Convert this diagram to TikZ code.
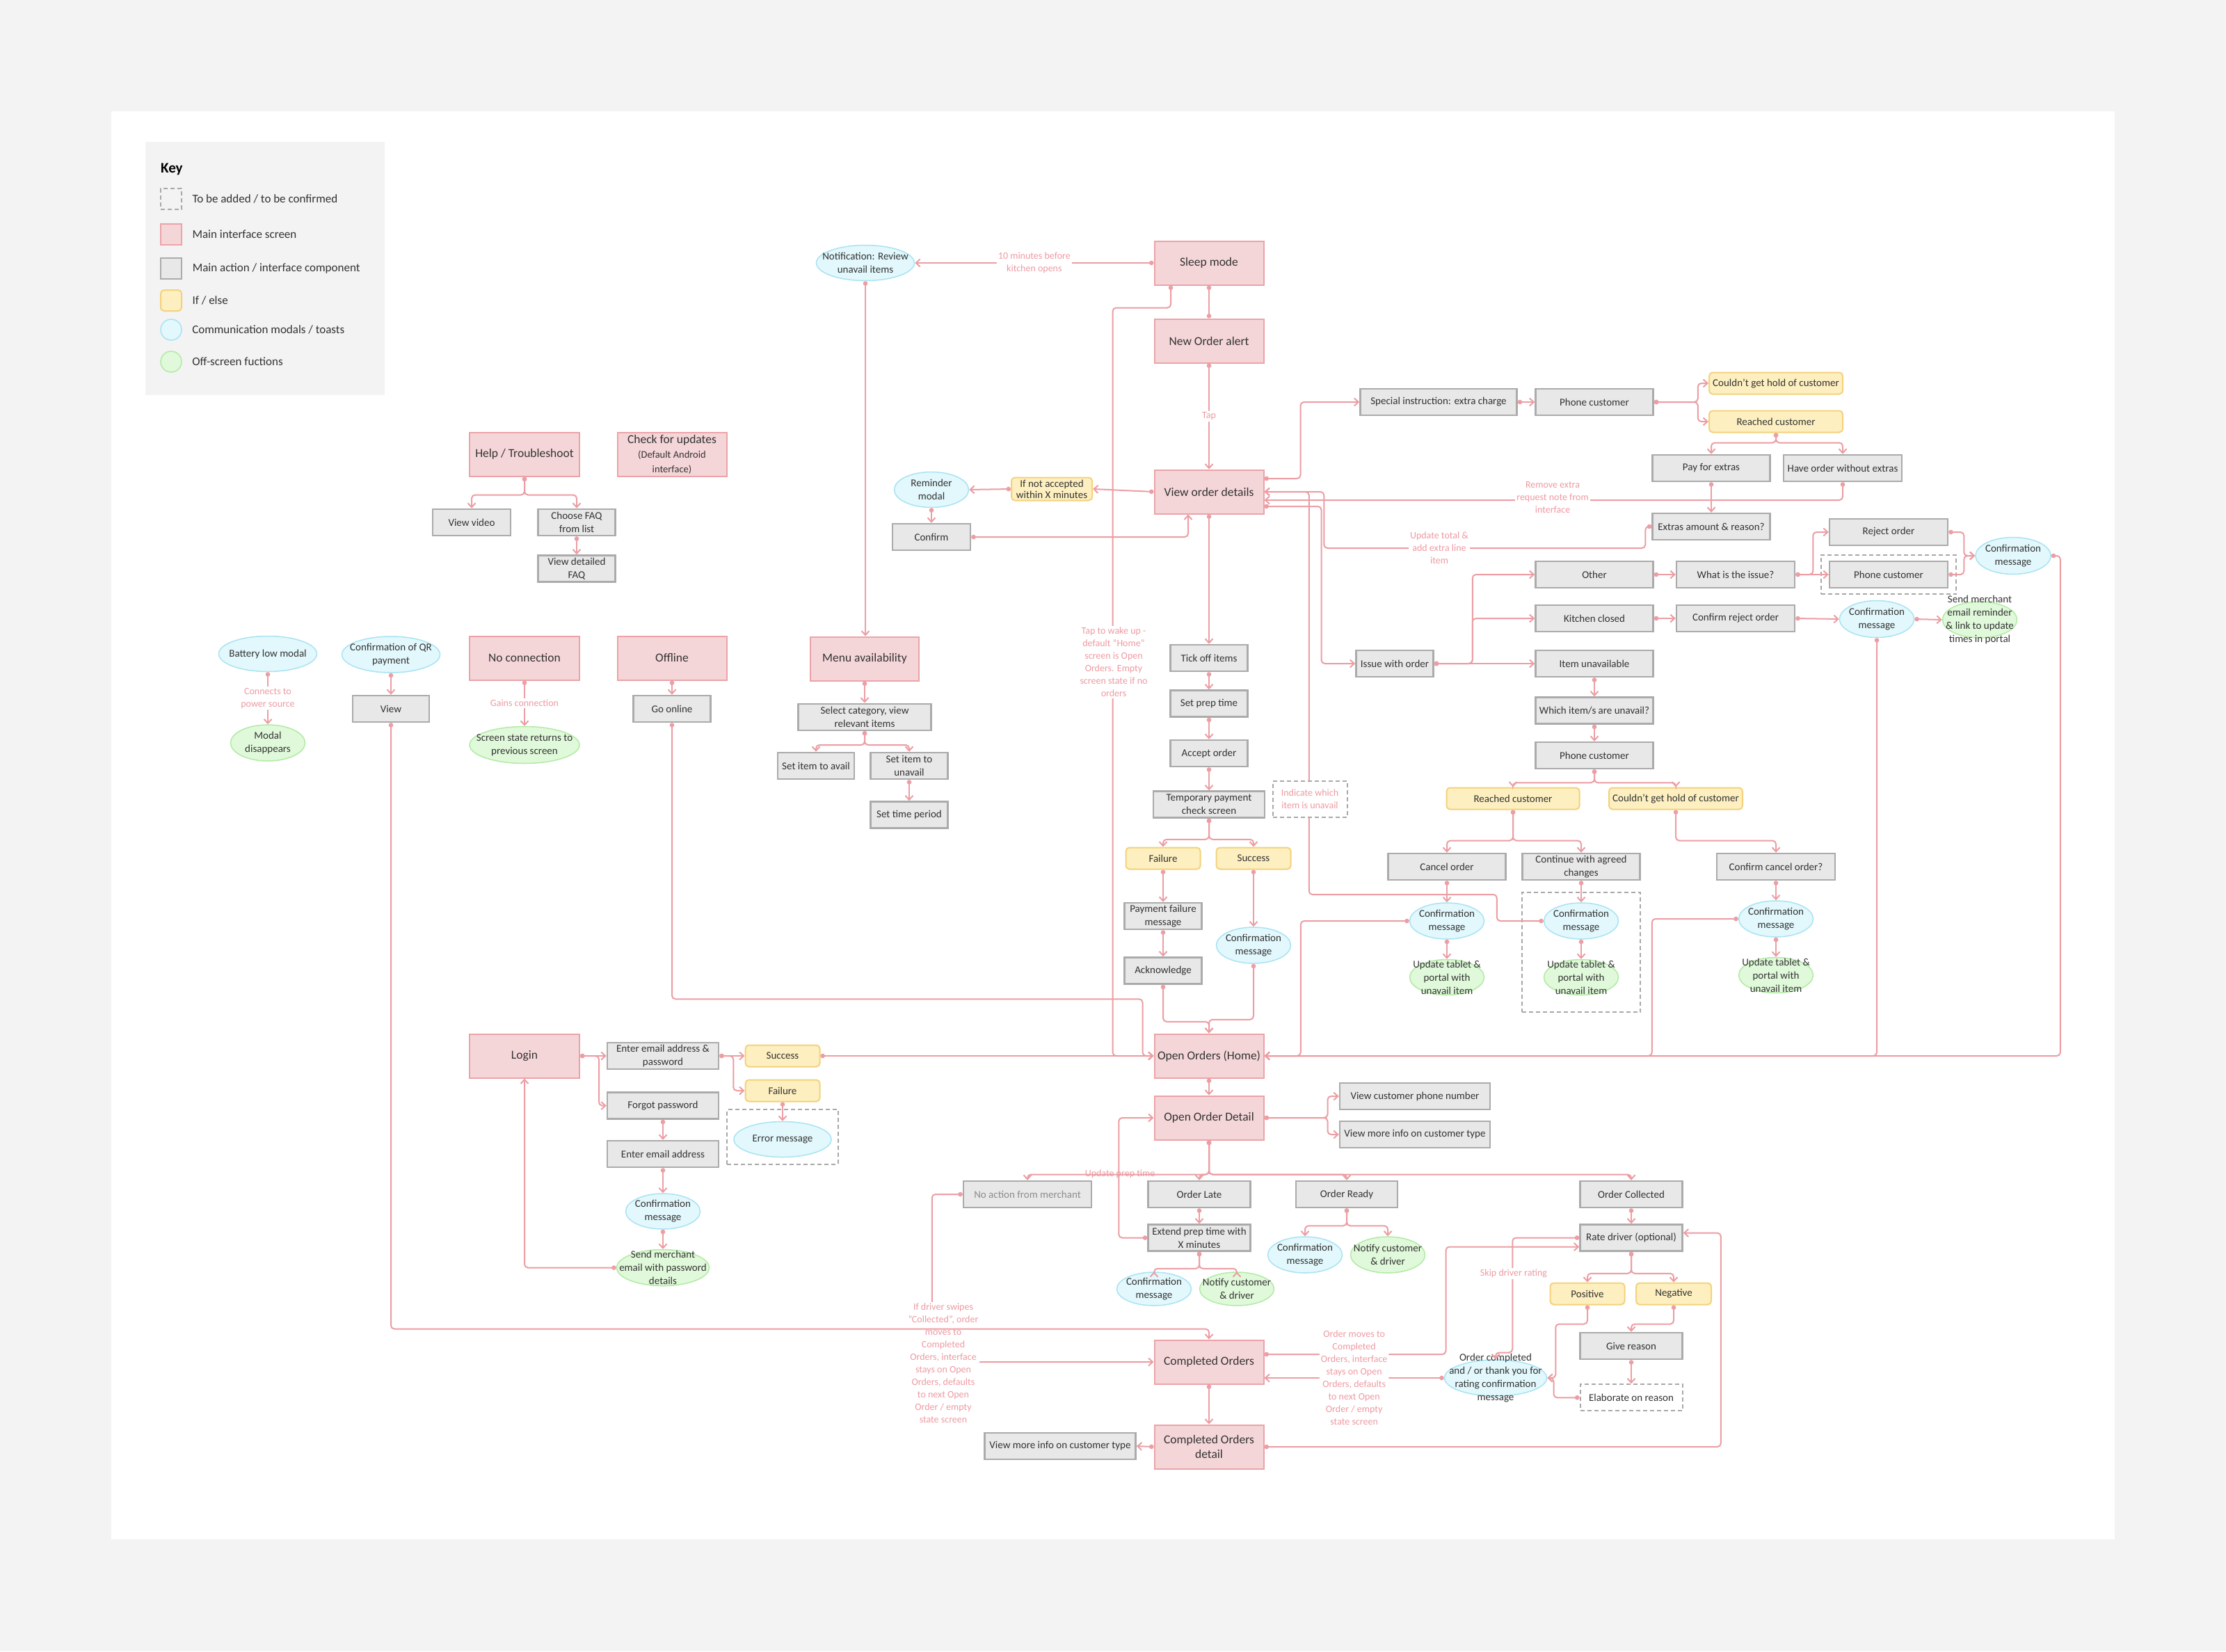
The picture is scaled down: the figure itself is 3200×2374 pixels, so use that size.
\documentclass[tikz,border=0pt]{standalone}
\usepackage{fontspec}
\setmainfont{Carlito}
\usetikzlibrary{shapes.geometric, arrows.meta, positioning, fit, calc}

\definecolor{pagebg}{HTML}{F3F3F4}
\definecolor{keybg}{HTML}{F3F3F3}
\definecolor{ink}{HTML}{333333}
\definecolor{flow}{HTML}{EC9EA4}
\definecolor{notetext}{HTML}{EE9AA2}
\definecolor{scrfill}{HTML}{F5D6D8}
\definecolor{scrline}{HTML}{EBA3A8}
\definecolor{actfill}{HTML}{E8E8E8}
\definecolor{actline}{HTML}{ABABAB}
\definecolor{iffill}{HTML}{FDEFC0}
\definecolor{ifline}{HTML}{F4D27C}
\definecolor{modfill}{HTML}{E2F8FC}
\definecolor{modline}{HTML}{A8E3F2}
\definecolor{offfill}{HTML}{E0F9DA}
\definecolor{offedge}{HTML}{B2EAA4}
\definecolor{tbcline}{HTML}{A8A8A8}

\newcommand\screenfont{\fontsize{17.5}{21}\selectfont}
\newcommand\subfont{\fontsize{14.5}{20}\selectfont}
\newcommand\boxfont{\fontsize{15}{19}\selectfont}
\newcommand\notefont{\fontsize{14}{18}\selectfont}
\newcommand\keyfont{\fontsize{17}{20}\selectfont}

\tikzset{
  screen/.style={rectangle, draw=scrline, fill=scrfill, line width=2pt,
    minimum width=157pt, minimum height=63pt, inner sep=2pt,
    text=ink, font=\screenfont, align=center},
  actbox/.style={rectangle, draw=actline, fill=actfill, line width=2.5pt,
    minimum width=111pt, minimum height=38pt, inner sep=1pt,
    text=ink, font=\boxfont, align=center},
  ifelse/.style={rectangle, rounded corners=5pt, draw=ifline, fill=iffill,
    line width=2pt, minimum width=107pt, minimum height=31pt, inner sep=1pt,
    text=ink, font=\boxfont, align=center},
  modal/.style={ellipse, draw=modline, fill=modfill, line width=1.5pt,
    minimum width=107pt, minimum height=52pt, inner sep=0pt,
    label={[text=ink, font=\boxfont, align=center]center:{#1}}},
  offscreen/.style={ellipse, draw=offedge, fill=offfill, line width=1.5pt,
    minimum width=107pt, minimum height=52pt, inner sep=0pt,
    label={[text=ink, font=\boxfont, align=center]center:{#1}}},
  tbc/.style={draw=tbcline, line width=2pt, dash pattern=on 6pt off 4pt},
  tbcbox/.style={rectangle, tbc, inner sep=0pt},
  flowtext/.style={text=notetext, font=\notefont, align=center,
    fill=white, inner sep=2pt},
  arr/.style={draw=flow, line width=2pt, rounded corners=5pt,
    {Circle[length=6.5pt]}-{Straight Barb[length=6pt, width=11pt]}},
  link/.style={draw=flow, line width=2pt,
    {Circle[length=6.5pt]}-{Circle[length=6.5pt]}},
  keysw/.style={minimum width=30pt, minimum height=30pt, inner sep=0pt},
  keytext/.style={font=\keyfont, text=ink, anchor=west},
}

\begin{document}
\begin{tikzpicture}[x=1pt, y=-1pt]
\useasboundingbox (0,0) rectangle (3200,2374);
\fill[pagebg] (0,0) rectangle (3200,2374);
\fill[white] (160,160) rectangle (3040,2213);

% key
\fill[keybg] (209,204) rectangle (553,568);
\node (keytitle) [font=\fontsize{21}{25}\selectfont\bfseries, anchor=west, inner sep=0pt] at (231,243) {Key};
\node (ktbc) [keysw, tbc] at (246,286) {};
\node (kscr) [keysw, draw=scrline, fill=scrfill, line width=2pt] at (246,337) {};
\node (kact) [keysw, draw=actline, fill=actfill, line width=2.5pt] at (246,386) {};
\node (kif) [keysw, draw=ifline, fill=iffill, line width=2pt, rounded corners=5pt] at (246,432) {};
\node (kmod) [keysw, circle, draw=modline, fill=modfill, line width=1.5pt] at (246,474) {};
\node (koff) [keysw, circle, draw=offedge, fill=offfill, line width=1.5pt] at (246,520) {};
\node (ktbctxt) [keytext, right=11pt of ktbc] {To be added / to be confirmed};
\node (kscrtxt) [keytext, right=11pt of kscr] {Main interface screen};
\node (kacttxt) [keytext, right=11pt of kact] {Main action / interface component};
\node (kiftxt) [keytext, right=11pt of kif] {If / else};
\node (kmodtxt) [keytext, right=11pt of kmod] {Communication modals / toasts};
\node (kofftxt) [keytext, right=11pt of koff] {Off-screen fuctions};

% order alert column
\node (sleep) [screen] at (1738,378) {Sleep mode};
\node (newalert) [screen, below=47pt of sleep] {New Order alert};
\node (vod) [screen, below=152pt of newalert] {View order details};
\node (notify) [modal={Notification: Review\\unavail items}, minimum width=141pt, minimum height=51pt] at (1244,378) {};
\node (notacc) [ifelse, minimum width=116pt, minimum height=33pt, font=\fontsize{15}{16}\selectfont] at (1512,703) {If not accepted\\within X minutes};
\node (reminder) [modal={Reminder\\modal}, minimum height=51pt] at (1339,704) {};
\node (confirm) [actbox, minimum width=112pt] at (1339,772) {Confirm};

\node (tick) [actbox] at (1738,946) {Tick off items};
\node (preptime) [actbox, below=25pt of tick] {Set prep time};
\node (accept) [actbox, below=31pt of preptime] {Accept order};
\node (temppay) [actbox, minimum width=160pt, below=33pt of accept] {Temporary payment\\check screen};
\node (failure) [ifelse] at (1672,1234) {Failure};
\node (success) [ifelse] at (1802,1234) {Success};
\node (payfail) [actbox] at (1672,1317) {Payment failure\\message};
\node (ack) [actbox, below=38pt of payfail] {Acknowledge};
\node (cmpay) [modal={Confirmation\\message}] at (1802,1359) {};

% menu
\node (menu) [screen, minimum width=156pt] at (1243,947) {Menu availability};
\node (selectcat) [actbox, minimum width=191pt, below=31pt of menu] {Select category, view\\relevant items};
\node (setavail) [actbox, minimum width=110pt] at (1173,1101) {Set item to avail};
\node (setunavail) [actbox] at (1307,1101) {Set item to\\unavail};
\node (setperiod) [actbox, below=30pt of setunavail] {Set time period};

% help, connection, battery
\node (help) [screen, minimum width=158pt] at (754,653) {Help / Troubleshoot};
\node (updates) [screen] at (966,653) {Check for updates\\{\subfont (Default Android}\\{\subfont interface)}};
\node (video) [actbox, minimum width=112pt] at (678,751) {View video};
\node (faq) [actbox] at (829,751) {Choose FAQ\\from list};
\node (faqdetail) [actbox, below=26pt of faq] {View detailed\\FAQ};
\node (battery) [modal={Battery low modal}, minimum width=141pt, minimum height=51pt] at (385,940) {};
\node (modalgone) [offscreen={Modal\\disappears}] at (385,1068) {};
\node (qr) [modal={Confirmation of QR\\payment}, minimum width=141pt] at (562,941) {};
\node (view) [actbox, minimum width=110pt] at (562,1019) {View};
\node (nocon) [screen, minimum width=158pt] at (754,946) {No connection};
\node (screenstate) [offscreen={Screen state returns to\\previous screen}, minimum width=158pt, minimum height=53pt] at (754,1071) {};
\node (offline) [screen] at (966,946) {Offline};
\node (goonline) [actbox] at (966,1019) {Go online};

% login
\node (login) [screen, minimum width=158pt] at (754,1518) {Login};
\node (emailpw) [actbox, minimum width=160pt] at (953,1518) {Enter email address \&\\password};
\node (forgot) [actbox, minimum width=160pt, below=31pt of emailpw] {Forgot password};
\node (email) [actbox, minimum width=160pt, below=29pt of forgot] {Enter email address};
\node (lsuccess) [ifelse] at (1125,1518) {Success};
\node (lfailure) [ifelse] at (1125,1568) {Failure};
\node (errormsg) [modal={Error message}, minimum width=140pt, minimum height=51pt] at (1125,1638) {};
\node (cmlogin) [modal={Confirmation\\message}, minimum height=51pt, below=36pt of email] {};
\node (sendpw) [offscreen={Send merchant\\email with password\\details}, minimum width=133pt, below=28pt of cmlogin] {};

% open orders
\node (home) [screen] at (1738,1518) {Open Orders (Home)};
\node (detail) [screen, below=24pt of home] {Open Order Detail};
\node (phonenum) [actbox, minimum width=216pt] at (2034,1576) {View customer phone number};
\node (moreinfo) [actbox, minimum width=216pt] at (2034,1631) {View more info on customer type};
\node (noaction) [actbox, minimum width=184pt, text=black!45] at (1477,1717) {No action from merchant};
\node (late) [actbox, minimum width=147pt] at (1724,1717) {Order Late};
\node (extend) [actbox, minimum width=147pt, below=22pt of late] {Extend prep time with\\X minutes};
\node (ready) [actbox, minimum width=146pt] at (1936,1717) {Order Ready};
\node (cmlate) [modal={Confirmation\\message}, minimum height=48pt] at (1659,1853) {};
\node (notifylate) [offscreen={Notify customer\\\& driver}, minimum height=48pt] at (1778,1853) {};
\node (cmready) [modal={Confirmation\\message}] at (1876,1804) {};
\node (notifyready) [offscreen={Notify customer\\\& driver}] at (1995,1804) {};
\node (collected) [actbox, minimum width=147pt] at (2345,1717) {Order Collected};
\node (rate) [actbox, minimum width=147pt, below=22pt of collected] {Rate driver (optional)};
\node (positive) [ifelse] at (2282,1860) {Positive};
\node (negative) [ifelse, minimum width=108pt] at (2406,1860) {Negative};
\node (reason) [actbox, minimum width=147pt] at (2345,1935) {Give reason};
\node (elaborate) [actbox, tbc, fill=white, minimum width=147pt, below=34pt of reason] {Elaborate on reason};
\node (ordercomplete) [modal={Order completed\\and / or thank you for\\rating confirmation\\message}, minimum width=147pt] at (2150,1981) {};
\node (completed) [screen] at (1738,1958) {Completed Orders};
\node (compdetail) [screen, below=57pt of completed] {Completed Orders\\detail};
\node (moreinfo2) [actbox, minimum width=217pt] at (1524,2079) {View more info on customer type};

% order issues
\node (special) [actbox, minimum width=225pt] at (2068,578) {Special instruction: extra charge};
\node (phone1) [actbox, minimum width=169pt] at (2292,578) {Phone customer};
\node (nohold1) [ifelse, minimum width=192pt] at (2553,551) {Couldn't get hold of customer};
\node (reached1) [ifelse, minimum width=192pt] at (2553,606) {Reached customer};
\node (payextras) [actbox, minimum width=169pt] at (2460,673) {Pay for extras};
\node (noextras) [actbox, minimum width=170pt] at (2649,673) {Have order without extras};
\node (extras) [actbox, minimum width=169pt] at (2460,757) {Extras amount \& reason?};
\node (reject) [actbox, minimum width=170pt] at (2715,765) {Reject order};
\node (other) [actbox, minimum width=169pt] at (2292,826) {Other};
\node (issue) [actbox, minimum width=170pt] at (2495,826) {What is the issue?};
\node (phone2) [actbox, minimum width=170pt] at (2715,826) {Phone customer};
\node (cmreject) [modal={Confirmation\\message}, minimum width=108pt, minimum height=53pt] at (2894,799) {};
\node (kitchen) [actbox, minimum width=169pt] at (2292,889) {Kitchen closed};
\node (confreject) [actbox, minimum width=170pt] at (2495,889) {Confirm reject order};
\node (cmkitchen) [modal={Confirmation\\message}, minimum height=53pt] at (2698,890) {};
\node (emailreminder) [offscreen={Send merchant\\email reminder\\\& link to update\\times in portal}] at (2846,891) {};
\node (issuewith) [actbox] at (2005,954) {Issue with order};
\node (itemun) [actbox, minimum width=169pt] at (2292,954) {Item unavailable};
\node (whichitem) [actbox, minimum width=169pt, below=27pt of itemun] {Which item/s are unavail?};
\node (phone3) [actbox, minimum width=169pt, below=24pt of whichitem] {Phone customer};
\node (reached2) [ifelse, minimum width=191pt] at (2175,1148) {Reached customer};
\node (nohold2) [ifelse, minimum width=192pt] at (2409,1148) {Couldn't get hold of customer};
\node (cancel) [actbox, minimum width=169pt] at (2080,1246) {Cancel order};
\node (agreed) [actbox, minimum width=169pt] at (2273,1246) {Continue with agreed\\changes};
\node (confcancel) [actbox, minimum width=170pt] at (2553,1246) {Confirm cancel order?};
\node (cmcancel) [modal={Confirmation\\message}] at (2080,1324) {};
\node (cmagreed) [modal={Confirmation\\message}] at (2273,1324) {};
\node (cmnohold) [modal={Confirmation\\message}] at (2553,1321) {};
\node (updcancel) [offscreen={Update tablet \&\\portal with\\unavail item}, minimum height=51pt, below=28pt of cmcancel] {};
\node (updagreed) [offscreen={Update tablet \&\\portal with\\unavail item}, minimum height=51pt, below=28pt of cmagreed] {};
\node (updnohold) [offscreen={Update tablet \&\\portal with\\unavail item}, minimum height=51pt, below=28pt of cmnohold] {};

\node (tbcphone) [tbcbox, fit=(phone2), inner xsep=11pt, inner ysep=8pt] {};
\node (tbcagreed) [tbcbox, fit=(cmagreed)(updagreed), inner xsep=31pt, inner ysep=19pt, yshift=-5pt] {};
\node (tbcerror) [tbcbox, fit=(errormsg), inner xsep=9pt, inner ysep=13pt, yshift=3.5pt] {};

% connectors
\draw[arr] (sleep.west) -- node[flowtext] (openlbl) {10 minutes before\\kitchen opens} (notify.east);
\draw[link] (sleep.south) -- (newalert.north);
\draw[arr] (newalert.south) -- node[flowtext] (taplbl) {Tap} (vod.north);
\draw[arr] ([xshift=-55pt]sleep.south) -- ++(0,32) -| ([xshift=-59pt]home.west) -- (home.west);
\draw[arr] (vod.west) -- (notacc.east);
\draw[arr] (notacc.west) -- (reminder.east);
\draw[arr] (reminder.south) -- (confirm.north);
\draw[arr] (confirm.east) -| ([xshift=-30pt]vod.south);
\draw[arr] (vod.south) -- (tick.north);
\draw[arr] (tick.south) -- (preptime.north);
\draw[arr] (preptime.south) -- (accept.north);
\draw[arr] (accept.south) -- (temppay.north);
\draw[arr] (temppay.south) -- ++(0,30) -| (failure.north);
\draw[arr] (temppay.south) -- ++(0,30) -| (success.north);
\draw[arr] (failure.south) -- (payfail.north);
\draw[arr] (payfail.south) -- (ack.north);
\draw[arr] (success.south) -- (cmpay.north);
\draw[arr] (ack.south) -- ++(0,53) -| (home.north);
\draw[arr] (cmpay.south) -- ++(0,80) -| (home.north);

\draw[arr] (notify.south) -- (notify.south |- menu.north);
\draw[arr] (menu.south) -- (selectcat.north);
\draw[arr] (selectcat.south) -- ++(0,20) -| (setavail.north);
\draw[arr] (selectcat.south) -- ++(0,20) -| (setunavail.north);
\draw[arr] (setunavail.south) -- (setperiod.north);

\draw[arr] (help.south) -- ++(0,26) -| (video.north);
\draw[arr] (help.south) -- ++(0,26) -| (faq.north);
\draw[arr] (faq.south) -- (faqdetail.north);
\draw[arr] (battery.south) -- node[flowtext] (powerlbl) {Connects to\\power source} (modalgone.north);
\draw[arr] (qr.south) -- (view.north);
\draw[arr] (nocon.south) -- node[flowtext] (gainslbl) {Gains connection} (screenstate.north);
\draw[arr] (offline.south) -- (goonline.north);
\draw[arr] (goonline.south) -- ++(0,397) -| ([xshift=-16pt]home.west) -- (home.west);

\draw[arr] (login.east) -- (emailpw.west);
\draw[arr] (login.east) -- ++(27,0) |- (forgot.west);
\draw[arr] (emailpw.east) -- (lsuccess.west);
\draw[arr] (emailpw.east) -- ++(20,0) |- (lfailure.west);
\draw[arr] (lfailure.south) -- (errormsg.north);
\draw[arr] (lsuccess.east) -- (home.west);
\draw[arr] (forgot.south) -- (email.north);
\draw[arr] (email.south) -- (cmlogin.north);
\draw[arr] (cmlogin.south) -- (sendpw.north);
\draw[arr] (sendpw.west) -| (login.south);

\draw[arr] (home.south) -- (detail.north);
\draw[arr] (detail.east) -- ++(91,0) |- (phonenum.west);
\draw[arr] (detail.east) -- ++(91,0) |- (moreinfo.west);
\draw[arr] (detail.south) -- ++(0,49) -| (noaction.north);
\draw[arr] (detail.south) -- ++(0,49) -| (late.north);
\draw[arr] (detail.south) -- ++(0,49) -| (ready.north);
\draw[arr] (detail.south) -- ++(0,49) -| (collected.north);
\draw[arr] (late.south) -- (extend.north);
\draw[arr] (extend.west) -- ++(-41,0) |- (detail.west);
\draw[arr] (extend.south) -- ++(0,24) -| (cmlate.north);
\draw[arr] (extend.south) -- ++(0,24) -| (notifylate.north);
\draw[arr] (ready.south) -- ++(0,25) -| (cmready.north);
\draw[arr] (ready.south) -- ++(0,25) -| (notifyready.north);
\draw[arr] (noaction.west) -- ++(-44,0) |- (completed.west);
\draw[arr] (completed.south) -- (compdetail.north);
\draw[arr] (compdetail.west) -- (moreinfo2.east);
\draw[arr] (compdetail.east) -| ([xshift=54pt,yshift=7pt]rate.east) -- ([yshift=7pt]rate.east);
\draw[arr] ([yshift=11pt]completed.east) -- ++(261,0) |- ([yshift=-13pt]rate.west);
\draw[arr] (ordercomplete.west) -- node[flowtext] (movedlbl) {Order moves to\\Completed\\Orders, interface\\stays on Open\\Orders, defaults\\to next Open\\Order / empty\\state screen} ([yshift=-23pt]completed.east);
\draw[arr] (collected.south) -- (rate.north);
\draw[arr] (rate.west) -- ++(-96,0) -- ++(0,165) -| (ordercomplete.north);
\draw[arr] (rate.south) -- ++(0,31) -| (positive.north);
\draw[arr] (rate.south) -- ++(0,31) -| (negative.north);
\draw[arr] (positive.south) -- ++(0,27) -| ($(ordercomplete.east)+(12,0)$) -- (ordercomplete.east);
\draw[arr] (negative.south) -- ++(0,27) -| (reason.north);
\draw[arr] (reason.south) -- (elaborate.north);
\draw[arr] (elaborate.west) -- ++(-37,0) |- (ordercomplete.east);

\draw[arr] ([yshift=19pt]vod.east) -- ++(52,0) |- (special.west);
\draw[arr] (special.east) -- (phone1.west);
\draw[arr] (phone1.east) -- ++(63,0) |- (nohold1.west);
\draw[arr] (phone1.east) -- ++(63,0) |- (reached1.west);
\draw[arr] (reached1.south) -- ++(0,14) -| (payextras.north);
\draw[arr] (reached1.south) -- ++(0,14) -| (noextras.north);
\draw[arr] (payextras.south) -- (extras.north);
\draw[arr] (noextras.south) |- ([yshift=-12pt]vod.east);
\draw[arr] (extras.west) -- ++(-9,0) |- ++(-462,31) |- (vod.east);
\draw[arr] ([yshift=-21pt]vod.east) -- ++(82,0) |- (issuewith.west);
\draw[arr] (issuewith.east) -- (itemun.west);
\draw[arr] (issuewith.east) -- ++(55,0) |- (other.west);
\draw[arr] (issuewith.east) -- ++(55,0) |- (kitchen.west);
\draw[arr] (other.east) -- (issue.west);
\draw[arr] (kitchen.east) -- (confreject.west);
\draw[arr] (issue.east) -- (phone2.west);
\draw[arr] (issue.east) -- ++(25,0) |- (reject.west);
\draw[arr] (reject.east) -- ++(22,0) |- (cmreject.west);
\draw[arr] (phone2.east) -- ++(22,0) |- (cmreject.west);
\draw[arr] (confreject.east) -- (cmkitchen.west);
\draw[arr] (cmkitchen.east) -- (emailreminder.west);
\draw[arr] (cmreject.east) -- ++(13,0) |- (home.east);
\draw[arr] (cmkitchen.south) |- (home.east);
\draw[arr] (itemun.south) -- (whichitem.north);
\draw[arr] (whichitem.south) -- (phone3.north);
\draw[arr] (phone3.south) -- ++(0,19) -| (reached2.north);
\draw[arr] (phone3.south) -- ++(0,19) -| (nohold2.north);
\draw[arr] (reached2.south) -- ++(0,44) -| (cancel.north);
\draw[arr] (reached2.south) -- ++(0,44) -| (agreed.north);
\draw[arr] (nohold2.south) -- ++(0,44) -| (confcancel.north);
\draw[arr] (cancel.south) -- (cmcancel.north);
\draw[arr] (agreed.south) -- (cmagreed.north);
\draw[arr] (confcancel.south) -- (cmnohold.north);
\draw[arr] (cmcancel.south) -- (updcancel.north);
\draw[arr] (cmagreed.south) -- (updagreed.north);
\draw[arr] (cmnohold.south) -- (updnohold.north);
\draw[arr] (cmcancel.west) -- ++(-156,0) |- (home.east);
\draw[arr] (cmnohold.west) -- ++(-124,0) |- (home.east);
\draw[arr] (cmagreed.west) -- ++(-67,0) |- ++(-270,-38) |- (vod.east);

% labels sitting on connectors
\node (wakelbl) [flowtext] at (1601,952) {Tap to wake up -\\default "Home"\\screen is Open\\Orders. Empty\\screen state if no\\orders};
\node (removelbl) [flowtext] at (2232,715) {Remove extra\\request note from\\interface};
\node (totallbl) [flowtext] at (2069,788) {Update total \&\\add extra line\\item};
\node (preplbl) [flowtext, fill=none] at (1610,1688) {Update prep time};
\node (skiplbl) [flowtext] at (2176,1831) {Skip driver rating};
\node (indicate) [tbcbox, fill=white, minimum width=107pt, minimum height=52pt, text=notetext, font=\notefont, align=center] at (1883,1149) {Indicate which\\item is unavail};
\node (swipelbl) [flowtext] at (1356,1960) {If driver swipes\\"Collected", order\\moves to\\Completed\\Orders, interface\\stays on Open\\Orders, defaults\\to next Open\\Order / empty\\state screen};

\draw[arr] (view.south) |- ([yshift=15pt]completed.north) -- (completed.north);

\end{tikzpicture}
\end{document}
